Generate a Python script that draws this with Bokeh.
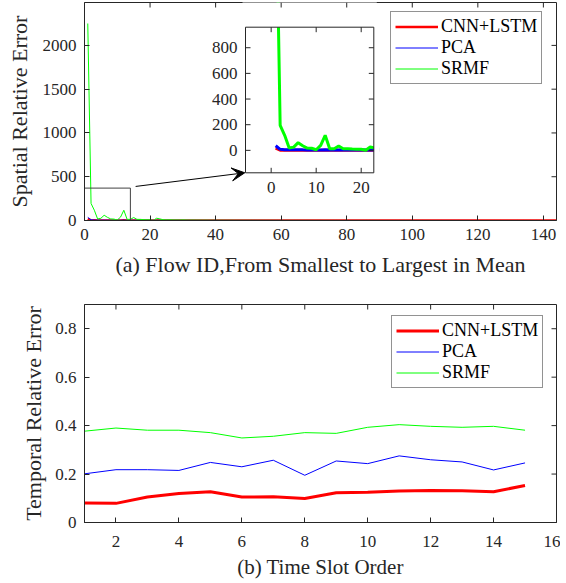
from bokeh.plotting import figure
from bokeh.layouts import column
from bokeh.models import (FixedTicker, Range1d, Legend, LegendItem, Arrow, VeeHead)
from bokeh.core.properties import value
from bokeh.embed import file_html
from bokeh.resources import INLINE

FONT = "Liberation Serif"
DARK = "#262626"
RED, BLUE, GREEN = "#ff0000", "#0000ff", "#00ff00"
SERIES = ["CNN+LSTM", "PCA", "SRMF"]

# ---------------- (a) spatial relative error per flow ----------------
flow_id = list(range(1, 145))

srmf_spatial = [
    2250, 195, 117, 18, 25, 60, 36, 18, 16, 5, 39, 117, 13, 13, 34, 13, 13, 10, 8, 8, 1, 26, 18,
    9, 7, 8, 6, 6, 5, 7, 5, 4, 5, 4, 4, 3.5, 4, 3, 3.2, 3,
    2.8, 3, 2.6, 2.5, 2.7, 2.4, 2.2, 2.3, 2.1, 2, 2.2, 1.9, 1.8, 1.9, 1.7, 1.6, 1.8, 1.5, 1.5, 1.4,
    1.4, 1.3, 1.4, 1.2, 1.2, 1.1, 1.2, 1.0, 1.1, 1.0, 0.9, 1.0, 0.9, 0.9, 0.8, 0.9, 0.8, 0.8, 0.7, 0.8,
    0.7, 0.7, 0.6, 0.7, 0.6, 0.6, 0.6, 0.5, 0.6, 0.5, 0.5, 0.5, 0.5, 0.45, 0.5, 0.45, 0.4, 0.45, 0.4, 0.4,
    0.4, 0.38, 0.4, 0.36, 0.37, 0.35, 0.36, 0.34, 0.35, 0.33, 0.34, 0.32, 0.33, 0.31, 0.32, 0.3, 0.31, 0.3, 0.29, 0.3,
    0.29, 0.28, 0.29, 0.27, 0.28, 0.27, 0.26, 0.27, 0.26, 0.25, 0.26, 0.25, 0.24, 0.25, 0.24, 0.23, 0.24, 0.23,
    0.22, 0.23, 0.22, 0.21, 0.22, 0.21,
]
pca_spatial = [
    36, 8, 5, 4.5, 4, 4.2, 3.8, 3.5, 3.6, 3.2, 3.4, 4.5, 3, 3.1, 3.3, 2.9, 2.8, 2.7, 2.6, 2.5, 2.4, 2.6, 2.5,
    2.3, 2.2, 2.3, 2.1, 2, 2.1, 1.9, 1.9, 1.8, 1.8, 1.7, 1.7, 1.6, 1.6, 1.5, 1.5, 1.5,
    1.4, 1.4, 1.3, 1.4, 1.3, 1.2, 1.3, 1.2, 1.2, 1.1, 1.1, 1.1, 1.0, 1.1, 1.0, 1.0, 0.9, 1.0, 0.9, 0.9,
    0.9, 0.85, 0.8, 0.85, 0.8, 0.8, 0.75, 0.8, 0.75, 0.7, 0.7, 0.72, 0.68, 0.7, 0.65, 0.66, 0.64, 0.65, 0.62, 0.6,
    0.6, 0.58, 0.6, 0.57, 0.56, 0.55, 0.56, 0.54, 0.53, 0.52, 0.52, 0.5, 0.51, 0.5, 0.49, 0.48, 0.48, 0.47, 0.46, 0.46,
    0.45, 0.45, 0.44, 0.44, 0.43, 0.42, 0.42, 0.41, 0.41, 0.4, 0.4, 0.39, 0.39, 0.38, 0.38, 0.37, 0.37, 0.36, 0.36, 0.35,
    0.35, 0.35, 0.34, 0.34, 0.33, 0.33, 0.33, 0.32, 0.32, 0.31, 0.31, 0.31, 0.3, 0.3, 0.3, 0.29, 0.29, 0.29,
    0.28, 0.28, 0.28, 0.27, 0.27, 0.27,
]
cnn_spatial = [
    18, 1.2, 1.5, 1.1, 1.0, 1.3, 0.9, 0.9, 1.0, 0.8, 0.9, 1.6, 0.8, 0.7, 0.9, 0.7, 0.7, 0.6, 0.6, 0.6, 0.5, 0.7, 0.6,
    0.5, 0.5, 0.5, 0.45, 0.45, 0.4, 0.45, 0.4, 0.4, 0.38, 0.36, 0.37, 0.35, 0.34, 0.33, 0.33, 0.32,
    0.31, 0.3, 0.3, 0.29, 0.28, 0.28, 0.27, 0.27, 0.26, 0.26, 0.25, 0.25, 0.24, 0.24, 0.24, 0.23, 0.23, 0.22, 0.22, 0.22,
    0.21, 0.21, 0.21, 0.2, 0.2, 0.2, 0.19, 0.19, 0.19, 0.18, 0.18, 0.18, 0.18, 0.17, 0.17, 0.17, 0.17, 0.16, 0.16, 0.16,
    0.16, 0.15, 0.15, 0.15, 0.15, 0.15, 0.14, 0.14, 0.14, 0.14, 0.14, 0.13, 0.13, 0.13, 0.13, 0.13, 0.13, 0.12, 0.12, 0.12,
    0.12, 0.12, 0.12, 0.11, 0.11, 0.11, 0.11, 0.11, 0.11, 0.11, 0.1, 0.1, 0.1, 0.1, 0.1, 0.1, 0.1, 0.1, 0.09, 0.09,
    0.09, 0.09, 0.09, 0.09, 0.09, 0.09, 0.09, 0.08, 0.08, 0.08, 0.08, 0.08, 0.08, 0.08, 0.08, 0.08, 0.08, 0.07,
    0.07, 0.07, 0.07, 0.07, 0.07, 0.07,
]

spatial_x_range = (0, 144)
spatial_y_range = (0, 2490)
spatial_x_ticks = [0, 20, 40, 60, 80, 100, 120, 140]
spatial_y_ticks = [0, 500, 1000, 1500, 2000]
inset_x_range = (-5.7, 22.8)
inset_y_range = (-175, 960)
inset_x_ticks = [0, 10, 20]
inset_y_ticks = [0, 200, 400, 600, 800]
inset_points = 23          # flows shown in the zoomed view
zoom_box_x = [0, 14]       # zoomed region, flow id
zoom_box_y = [0, 370]      # zoomed region, error
arrow_from = (15.6, 389)   # arrow annotation (data units of panel a)
arrow_to = (48.9, 545)

# ---------------- (b) temporal relative error per time slot ----------------
slot = list(range(1, 16))
cnn_temporal = [0.080, 0.079, 0.105, 0.120, 0.127, 0.105, 0.106, 0.099, 0.123, 0.125,
                0.130, 0.132, 0.131, 0.127, 0.153]
pca_temporal = [0.201, 0.218, 0.218, 0.215, 0.248, 0.230, 0.257, 0.195, 0.254, 0.243,
                0.275, 0.259, 0.250, 0.217, 0.246]
srmf_temporal = [0.377, 0.390, 0.381, 0.381, 0.371, 0.349, 0.356, 0.371, 0.368, 0.393,
                 0.404, 0.397, 0.393, 0.397, 0.381]
temporal_x_range = (1, 16)
temporal_y_range = (0, 0.9)
temporal_x_ticks = [2, 4, 6, 8, 10, 12, 14, 16]
temporal_y_ticks = [0, 0.2, 0.4, 0.6, 0.8]

# ---------------- layout (pixels) ----------------
TICK_PX = 5
FW, FH = 472, 218                       # frame size of both panels
LEFT, RIGHT = 84, 4
INSET_BOX = (161, 289.3, 24.7, 170.3)   # inset frame inside panel (a) frame: x0, x1, y0(top), y1(bottom)


def style_axis(ax, ticks, label_size="17px"):
    ax.ticker = FixedTicker(ticks=ticks)
    ax.major_label_text_font = FONT
    ax.major_label_text_font_size = label_size
    ax.major_label_text_color = DARK
    ax.axis_line_color = DARK
    ax.major_tick_line_color = DARK
    ax.major_tick_in = TICK_PX
    ax.major_tick_out = 0
    ax.minor_tick_line_color = None
    ax.axis_label_text_font = FONT
    ax.axis_label_text_font_style = "normal"
    ax.axis_label_text_color = DARK
    ax.axis_label_text_font_size = "22px"


def base_fig(xr, yr, top, bottom):
    p = figure(output_backend="svg", toolbar_location=None,
               x_range=Range1d(*xr), y_range=Range1d(*yr),
               frame_width=FW, frame_height=FH,
               width=FW + LEFT + RIGHT, height=FH + top + bottom,
               min_border_left=LEFT, min_border_right=RIGHT,
               min_border_top=top, min_border_bottom=bottom)
    p.grid.visible = False
    p.outline_line_color = DARK
    p.background_fill_color = "white"
    return p


def mirror_ticks(p, xr, yr, fw, fh, xticks, yticks, **kw):
    dy = TICK_PX * (yr[1] - yr[0]) / fh
    dx = TICK_PX * (xr[1] - xr[0]) / fw
    xt = [t for t in xticks if xr[0] < t < xr[1]]
    yt = [t for t in yticks if yr[0] < t < yr[1]]
    p.segment(x0=xt, x1=xt, y0=[yr[1]] * len(xt), y1=[yr[1] - dy] * len(xt),
              line_color=DARK, line_width=1, **kw)
    p.segment(x0=[xr[1]] * len(yt), x1=[xr[1] - dx] * len(yt), y0=yt, y1=yt,
              line_color=DARK, line_width=1, **kw)


def make_legend(renderers, loc):
    return Legend(items=[LegendItem(label=n, renderers=[r]) for n, r in zip(SERIES, renderers)],
                  location=loc, border_line_color=DARK, border_line_width=1,
                  background_fill_color="white", background_fill_alpha=1,
                  label_text_font=FONT, label_text_font_size="18px", label_text_color="black",
                  glyph_width=43, glyph_height=21, label_height=21, label_standoff=3,
                  padding=4, spacing=0, margin=0)


def outer_range(r, a, b, total):
    # range over the whole frame such that r maps onto pixels [a, b] of it
    per_px = (r[1] - r[0]) / (b - a)
    start = r[0] - a * per_px
    return start, start + total * per_px


# ---------- top panel ----------
p1 = base_fig(spatial_x_range, spatial_y_range, 2, 63)
r1 = p1.line(flow_id, cnn_spatial, line_color=RED, line_width=2.5)
r2 = p1.line(flow_id, pca_spatial, line_color=BLUE, line_width=1)
r3 = p1.line(flow_id, srmf_spatial, line_color=GREEN, line_width=1)
p1.quad(left=[zoom_box_x[0]], right=[zoom_box_x[1]], bottom=[zoom_box_y[0]], top=[zoom_box_y[1]],
        fill_color=None, line_color="#404040", line_width=1)
p1.add_layout(Arrow(end=VeeHead(size=13, fill_color="black", line_color="black"),
                    x_start=arrow_from[0], y_start=arrow_from[1],
                    x_end=arrow_to[0], y_end=arrow_to[1],
                    line_color="black", line_width=1))
style_axis(p1.xaxis[0], spatial_x_ticks)
style_axis(p1.yaxis[0], spatial_y_ticks)
p1.xaxis.axis_label = "(a) Flow ID,From Smallest to Largest in Mean"
p1.yaxis.axis_label = "Spatial Relative Error"
p1.xaxis.major_label_standoff = 8
p1.xaxis.axis_label_standoff = 9
p1.yaxis.major_label_standoff = 8
p1.yaxis.axis_label_standoff = 8

# ---- zoomed inset drawn inside panel (a) on its own ranges ----
ix0, ix1, iy_top, iy_bot = INSET_BOX
ixs, ixe = outer_range(inset_x_range, ix0, ix1, FW)
iys, iye = outer_range(inset_y_range, FH - iy_bot, FH - iy_top, FH)
p1.extra_x_ranges = {"ix": Range1d(ixs, ixe)}
p1.extra_y_ranges = {"iy": Range1d(iys, iye)}
IN = dict(x_range_name="ix", y_range_name="iy")
xa, xb = inset_x_range
ya, yb = inset_y_range
p1.quad(left=[xa], right=[xb], bottom=[ya], top=[yb], fill_color="white", line_color=None, **IN)
fx, fs = flow_id[:inset_points + 1], slice(0, inset_points + 1)
p1.line(fx, cnn_spatial[fs], line_color=RED, line_width=3, **IN)
p1.line(fx, pca_spatial[fs], line_color=BLUE, line_width=3, **IN)
p1.line(fx, srmf_spatial[fs], line_color=GREEN, line_width=3, **IN)
# white masks that clip the inset lines to the inset box
px_x = (xb - xa) / (ix1 - ix0)
p1.quad(left=[xa - 3 * px_x], right=[xb + 3 * px_x], bottom=[yb], top=[iye + 50],
        fill_color="white", line_color=None, **IN)
p1.quad(left=[xb], right=[xb + 6 * px_x], bottom=[ya], top=[yb],
        fill_color="white", line_color=None, **IN)
p1.quad(left=[xa], right=[xb], bottom=[ya], top=[yb], fill_color=None,
        line_color=DARK, line_width=1, **IN)
ifw, ifh = ix1 - ix0, iy_bot - iy_top
dyi = TICK_PX * (yb - ya) / ifh
dxi = TICK_PX * (xb - xa) / ifw
n_x, n_y = len(inset_x_ticks), len(inset_y_ticks)
p1.segment(x0=inset_x_ticks, x1=inset_x_ticks, y0=[ya] * n_x, y1=[ya + dyi] * n_x,
           line_color=DARK, **IN)
p1.segment(x0=[xa] * n_y, x1=[xa + dxi] * n_y, y0=inset_y_ticks, y1=inset_y_ticks,
           line_color=DARK, **IN)
mirror_ticks(p1, inset_x_range, inset_y_range, ifw, ifh, inset_x_ticks, inset_y_ticks, **IN)
p1.text(x=inset_x_ticks, y=[ya] * n_x, text=[str(t) for t in inset_x_ticks],
        text_font=value(FONT), text_font_size="17px", text_color=DARK,
        text_align="center", text_baseline="top", y_offset=9, **IN)
p1.text(x=[xa] * n_y, y=inset_y_ticks, text=[str(t) for t in inset_y_ticks],
        text_font=value(FONT), text_font_size="17px", text_color=DARK,
        text_align="right", text_baseline="middle", x_offset=-8, **IN)

mirror_ticks(p1, spatial_x_range, spatial_y_range, FW, FH, spatial_x_ticks, spatial_y_ticks)
p1.add_layout(make_legend([r1, r2, r3], (306, 136)))

# ---------- bottom panel ----------
p2 = base_fig(temporal_x_range, temporal_y_range, 21, 60)
s1 = p2.line(slot, cnn_temporal, line_color=RED, line_width=3)
s2 = p2.line(slot, pca_temporal, line_color=BLUE, line_width=1)
s3 = p2.line(slot, srmf_temporal, line_color=GREEN, line_width=1)
style_axis(p2.xaxis[0], temporal_x_ticks)
style_axis(p2.yaxis[0], temporal_y_ticks)
p2.yaxis.major_label_overrides = {0: "0"}
p2.xaxis.axis_label = "(b) Time Slot Order"
p2.xaxis.axis_label_text_font_size = "21px"
p2.yaxis.axis_label = "Temporal Relative Error"
p2.xaxis.major_label_standoff = 13
p2.xaxis.axis_label_standoff = 5
p2.yaxis.major_label_standoff = 8
p2.yaxis.axis_label_standoff = 6
mirror_ticks(p2, temporal_x_range, temporal_y_range, FW, FH, temporal_x_ticks, temporal_y_ticks)
p2.add_layout(make_legend([s1, s2, s3], (307, 134)))

layout = column(p1, p2, spacing=0)
open("out.html", "w").write(file_html(layout, INLINE))
